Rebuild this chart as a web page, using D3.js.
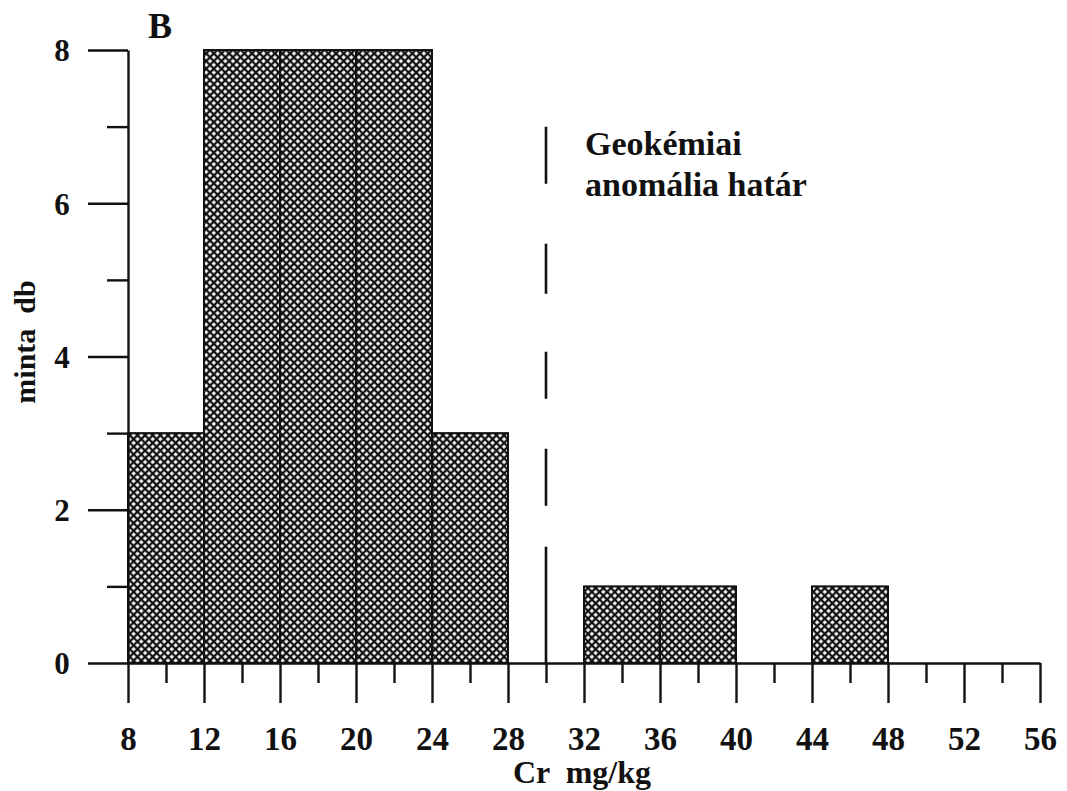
<!DOCTYPE html>
<html>
<head>
<meta charset="utf-8">
<script src="https://cdn.jsdelivr.net/npm/d3@7"></script>
<style>
  body { margin: 0; background: #fff; }
  svg text { font-family: "Liberation Serif", "Times New Roman", serif; font-weight: bold; fill: #111; }
</style>
</head>
<body>
<div class="graph"></div>
<script>
// Cr histogram, panel B
var binStarts = [8, 12, 16, 20, 24, 28, 32, 36, 40, 44, 48, 52];
var counts    = [3, 8, 8, 8, 3, 0, 1, 1, 0, 1, 0, 0];
var binWidth = 4;
var xMajor = [8, 12, 16, 20, 24, 28, 32, 36, 40, 44, 48, 52, 56];
var xMinor = [10, 14, 18, 22, 26, 30, 34, 38, 42, 46, 50, 54];
var yMajor = [0, 2, 4, 6, 8];
var yMinor = [1, 3, 5, 7];
var limitValue = 30;   // anomaly limit
var limitTop = 7;
var annotation = ["Geokémiai", "anomália határ"];

var svg = d3.select(".graph").append("svg")
  .attr("width", 1067)
  .attr("height", 791);

var x = d3.scaleLinear().domain([8, 56]).range([128, 1040]);
var y = d3.scaleLinear().domain([0, 8]).range([663, 50]);

// cross hatch
var pat = svg.append("defs").append("pattern")
  .attr("id", "hatch")
  .attr("patternUnits", "userSpaceOnUse")
  .attr("width", 5.4)
  .attr("height", 5.4)
  .attr("patternTransform", "rotate(45)");
pat.append("rect").attr("width", 5.4).attr("height", 5.4).attr("fill", "#fff");
pat.append("path")
  .attr("d", "M0,0 H5.4 M0,0 V5.4 M0,5.4 H5.4 M5.4,0 V5.4")
  .attr("stroke", "#111")
  .attr("stroke-width", 2.3);

var bins = binStarts.map(function(b, i){ return {x0: b, x1: b + binWidth, n: counts[i]}; })
  .filter(function(d){ return d.n > 0; });

svg.selectAll("rect.bar").data(bins).enter().append("rect")
  .attr("class", "bar")
  .attr("x", function(d){ return x(d.x0); })
  .attr("y", function(d){ return y(d.n); })
  .attr("width", function(d){ return x(d.x1) - x(d.x0); })
  .attr("height", function(d){ return y(0) - y(d.n); })
  .attr("fill", "url(#hatch)")
  .attr("stroke", "#111")
  .attr("stroke-width", 2);

// y axis
var yAx = svg.append("g").attr("transform", "translate(128,0)")
  .call(d3.axisLeft(y).tickValues(yMajor).tickSize(40).tickSizeOuter(0).tickFormat(d3.format("d")));
svg.append("g").attr("transform", "translate(128,0)")
  .call(d3.axisLeft(y).tickValues(yMinor).tickSize(21).tickSizeOuter(0).tickFormat(""))
  .select(".domain").remove();

// x axis
var xAx = svg.append("g").attr("transform", "translate(0,663)")
  .call(d3.axisBottom(x).tickValues(xMajor).tickSize(40).tickSizeOuter(0).tickFormat(d3.format("d")));
svg.append("g").attr("transform", "translate(0,663)")
  .call(d3.axisBottom(x).tickValues(xMinor).tickSize(20).tickSizeOuter(0).tickFormat(""))
  .select(".domain").remove();

svg.selectAll(".tick line, .domain").attr("stroke", "#111").attr("stroke-width", 2.4);

yAx.selectAll(".tick text")
  .attr("x", -66).attr("dy", "0.35em")
  .attr("text-anchor", "middle")
  .style("font-size", "31px").style("font-family", null);
xAx.selectAll(".tick text")
  .attr("y", 87).attr("dy", 0)
  .style("font-size", "33px").style("font-family", null);
svg.selectAll(".tick text").attr("fill", "#111");

// anomaly limit line (hand-drawn looking dashes)
svg.append("line")
  .attr("x1", x(limitValue)).attr("x2", x(limitValue))
  .attr("y1", y(limitTop)).attr("y2", y(0))
  .attr("stroke", "#111")
  .attr("stroke-width", 2.6)
  .attr("stroke-dasharray", "57,60,50,58,47,50,57,41,120");

svg.append("text").attr("x", 585).attr("y", 155)
  .style("font-size", "34px").text(annotation[0]);
svg.append("text").attr("x", 585).attr("y", 196)
  .style("font-size", "34px").text(annotation[1]);

// labels
svg.append("text").attr("x", 148).attr("y", 38)
  .style("font-size", "36px").text("B");

svg.append("text")
  .attr("transform", "translate(35,342) rotate(-90)")
  .attr("text-anchor", "middle")
  .style("font-size", "30px")
  .style("white-space", "pre")
  .text("minta  db");

svg.append("text")
  .attr("x", 582).attr("y", 783)
  .attr("text-anchor", "middle")
  .style("font-size", "32px")
  .style("white-space", "pre")
  .text("Cr  mg/kg");
</script>
</body>
</html>
